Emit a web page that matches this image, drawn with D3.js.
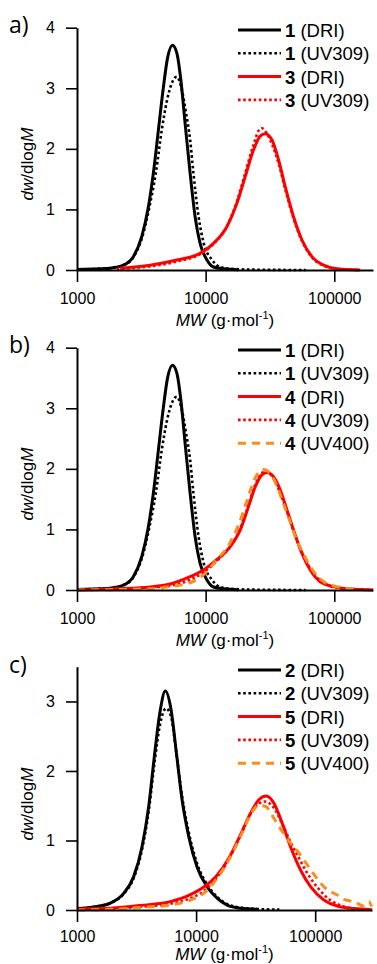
<!DOCTYPE html>
<html>
<head>
<meta charset="utf-8">
<script src="https://cdn.jsdelivr.net/npm/d3@7"></script>
<style>
  body { margin: 0; background: #fff; }
  svg text { font-family: Arial, 'Liberation Sans', Helvetica, sans-serif; }
</style>
</head>
<body>
<svg id="chart" width="377" height="964"></svg>
<script>
// ---- data: [MW (g/mol), dw/dlogM] ----
const s1Dri = [[1000, 0.01], [1500, 0.02], [1806, 0.03], [2292, 0.08], [2740, 0.22], [3186, 0.55], [3586, 1.04], [3923, 1.60], [4293, 2.31], [4697, 3.02], [5046, 3.49], [5522, 3.71], [5972, 3.58], [6415, 3.14], [6925, 2.42], [7574, 1.60], [8283, 0.88], [9057, 0.44], [10212, 0.17], [11508, 0.05], [13771, 0.02], [18000, 0.005]]
const s1Uv309 = [[1000, 0.01], [1500, 0.02], [1806, 0.03], [2292, 0.08], [2740, 0.21], [3223, 0.55], [3655, 1.04], [4098, 1.60], [4560, 2.31], [4985, 2.78], [5450, 3.08], [5972, 3.19], [6540, 2.97], [7045, 2.59], [7574, 2.15], [8034, 1.60], [8815, 0.88], [9667, 0.44], [11180, 0.17], [12920, 0.05], [15500, 0.02], [25000, 0.005], [60000, 0]]

const s3Dri = [[2163, 0.03], [3701, 0.08], [5972, 0.165], [9057, 0.275], [11508, 0.44], [14620, 0.715], [17490, 1.10], [20290, 1.54], [23550, 1.98], [26540, 2.21], [29040, 2.25], [32730, 2.15], [36880, 1.82], [41560, 1.375], [48230, 0.88], [56080, 0.495], [67000, 0.22], [82550, 0.08], [104900, 0.02], [159300, 0]]
const s3Uv309 = [[2035, 0.02], [3701, 0.06], [5972, 0.14], [9057, 0.26], [11508, 0.43], [14620, 0.72], [17490, 1.13], [20290, 1.60], [23550, 2.07], [26000, 2.31], [27350, 2.34], [30000, 2.25], [32730, 2.08], [36880, 1.76], [41560, 1.33], [48230, 0.85], [56080, 0.48], [67000, 0.21], [82550, 0.07], [104900, 0.02], [159300, 0]]

const s4Dri = [[1000, 0], [2035, 0.02], [3700, 0.05], [5297, 0.10], [7574, 0.22], [9617, 0.33], [12220, 0.50], [15530, 0.715], [18550, 0.99], [21520, 1.375], [24270, 1.70], [27350, 1.90], [29940, 1.94], [33720, 1.87], [38020, 1.65], [42870, 1.32], [48230, 0.99], [56080, 0.605], [65060, 0.33], [77800, 0.137], [98800, 0.055], [133400, 0.016], [200000, 0]]
const s4Uv309 = [[2000, 0.02], [3700, 0.04], [5297, 0.07], [7574, 0.17], [9617, 0.29], [12220, 0.48], [15530, 0.72], [18550, 1.01], [21520, 1.40], [24270, 1.74], [27350, 1.93], [29000, 1.96], [31640, 1.92], [35650, 1.74], [40200, 1.46], [45300, 1.15], [51000, 0.83], [59000, 0.52], [68700, 0.28], [85000, 0.10], [111000, 0.03], [160000, 0.01], [200000, 0.005]]
const s4Uv400 = [[1000, 0], [3700, 0.02], [5297, 0.055], [7574, 0.12], [9617, 0.25], [12220, 0.50], [15100, 0.74], [18000, 1.07], [20880, 1.46], [23550, 1.79], [25860, 1.94], [28180, 1.99], [31640, 1.93], [35650, 1.73], [40200, 1.43], [45300, 1.13], [51000, 0.825], [59000, 0.55], [68700, 0.31], [85000, 0.12], [111000, 0.045], [150000, 0.01]]

const s2Dri = [[1000, 0.02], [1473, 0.05], [1905, 0.10], [2466, 0.24], [2992, 0.48], [3515, 0.91], [4000, 1.49], [4463, 2.21], [4955, 2.83], [5520, 3.15], [6166, 2.88], [6834, 2.26], [7625, 1.585], [8670, 1.06], [10190, 0.62], [12360, 0.335], [15000, 0.17], [18220, 0.07], [23570, 0.025], [32560, 0.01]]
const s2Uv309 = [[1000, 0.02], [1473, 0.05], [1905, 0.10], [2466, 0.23], [2992, 0.46], [3515, 0.87], [4000, 1.42], [4463, 2.10], [4955, 2.65], [5600, 2.90], [6166, 2.78], [6834, 2.25], [7625, 1.64], [8670, 1.12], [10190, 0.67], [12360, 0.37], [15000, 0.19], [18220, 0.085], [23570, 0.035], [32560, 0.015], [50000, 0.005]]

const s5Dri = [[1000, 0.015], [1905, 0.025], [3630, 0.07], [6080, 0.12], [8950, 0.22], [11610, 0.33], [15000, 0.50], [18820, 0.745], [23570, 1.08], [28580, 1.39], [33630, 1.585], [38730, 1.64], [44960, 1.54], [52830, 1.25], [62080, 0.91], [75340, 0.575], [91440, 0.335], [118400, 0.144], [153200, 0.058], [211500, 0.02], [300000, 0.005]]
const s5Uv309 = [[1000, 0.01], [1905, 0.02], [3630, 0.05], [6080, 0.09], [8950, 0.17], [11590, 0.27], [15000, 0.47], [18820, 0.73], [23600, 1.07], [28640, 1.38], [33640, 1.53], [37600, 1.56], [44980, 1.47], [52820, 1.24], [62080, 0.98], [72950, 0.75], [85700, 0.53], [103800, 0.33], [134500, 0.14], [174200, 0.05], [240000, 0.01]]
const s5Uv400 = [[1000, 0], [1905, 0.01], [3630, 0.04], [6080, 0.07], [8950, 0.144], [11590, 0.24], [15000, 0.456], [18820, 0.72], [23600, 1.06], [28640, 1.37], [33640, 1.51], [38300, 1.49], [44980, 1.32], [52820, 1.13], [62080, 0.96], [72950, 0.82], [85700, 0.65], [100700, 0.48], [118300, 0.335], [143500, 0.24], [160000, 0.20], [174200, 0.154], [195000, 0.13], [211500, 0.10], [230000, 0.09], [248300, 0.06], [265000, 0.08], [282500, 0.12], [298000, 0.05]]

// axis ticks
const xMajorTicks = [1000, 10000, 100000]
const xMinorTicksAB = [2000, 3000, 4000, 5000, 6000, 7000, 8000, 9000, 20000, 30000, 40000, 50000, 60000, 70000, 80000, 90000, 200000]
const xMinorTicksC = xMinorTicksAB.concat([300000])
const yMajorTicksAB = [0, 1, 2, 3, 4]
const yMinorTicksAB = [0.5, 1.5, 2.5, 3.5]
const yMajorTicksC = [0, 1, 2, 3]
const yMinorTicksC = [0.5, 1.5, 2.5, 3.5]

const RED = '#ff0000'
const ORANGE = '#fb8c1e'

const styles = {
  dri: { width: 3, dash: null },
  uv309: { width: 2.6, dash: '2.6,2.6' },
  uv400: { width: 3, dash: '8,6' }
}

const panels = [
  {
    label: 'a)', top: 0, xMax: 200000, xRight: 373, yMax: 4, yTop: 27.7, tickY: 34, titleY: 56,
    xMinor: xMinorTicksAB, yMajor: yMajorTicksAB, yMinor: yMinorTicksAB,
    series: [
      { num: '1', det: 'DRI', data: s1Dri, color: '#000', style: 'dri' },
      { num: '1', det: 'UV309', data: s1Uv309, color: '#000', style: 'uv309' },
      { num: '3', det: 'DRI', data: s3Dri, color: RED, style: 'dri' },
      { num: '3', det: 'UV309', data: s3Uv309, color: RED, style: 'uv309' }
    ]
  },
  {
    label: 'b)', top: 320, xMax: 200000, xRight: 373, yMax: 4, yTop: 27.7, tickY: 34, titleY: 56,
    xMinor: xMinorTicksAB, yMajor: yMajorTicksAB, yMinor: yMinorTicksAB,
    series: [
      { num: '1', det: 'DRI', data: s1Dri, color: '#000', style: 'dri' },
      { num: '1', det: 'UV309', data: s1Uv309, color: '#000', style: 'uv309' },
      { num: '4', det: 'DRI', data: s4Dri, color: RED, style: 'dri' },
      { num: '4', det: 'UV309', data: s4Uv309, color: RED, style: 'uv309' },
      { num: '4', det: 'UV400', data: s4Uv400, color: ORANGE, style: 'uv400' }
    ]
  },
  {
    label: 'c)', top: 640, xMax: 300000, xRight: 372, yMax: 3.5, yTop: 26.7, tickY: 32, titleY: 50,
    xMinor: xMinorTicksC, yMajor: yMajorTicksC, yMinor: yMinorTicksC,
    series: [
      { num: '2', det: 'DRI', data: s2Dri, color: '#000', style: 'dri' },
      { num: '2', det: 'UV309', data: s2Uv309, color: '#000', style: 'uv309' },
      { num: '5', det: 'DRI', data: s5Dri, color: RED, style: 'dri' },
      { num: '5', det: 'UV309', data: s5Uv309, color: RED, style: 'uv309' },
      { num: '5', det: 'UV400', data: s5Uv400, color: ORANGE, style: 'uv400' }
    ]
  }
]

const svg = d3.select('#chart')
const left = 77

const drawPanel = (p) => {
  const g = svg.append('g')
  const bottom = p.top + 270
  const x = d3.scaleLog().domain([1000, p.xMax]).range([left, p.xRight])
  const y = d3.scaleLinear().domain([0, p.yMax]).range([bottom, p.top + p.yTop])

  // curves
  const line = d3.line()
    .x(d => x(d[0]))
    .y(d => y(d[1]))
    .curve(d3.curveMonotoneX)

  p.series.forEach(s => {
    const st = styles[s.style]
    g.append('path')
      .datum(s.data)
      .attr('d', line)
      .attr('fill', 'none')
      .attr('stroke', s.color)
      .attr('stroke-width', st.width)
      .attr('stroke-dasharray', st.dash)
  })

  // x axis
  const xAxis = g.append('g').attr('transform', `translate(0,${bottom})`)
  xAxis.call(d3.axisBottom(x).tickValues(p.xMinor).tickSize(7).tickSizeOuter(0).tickFormat(''))
  xAxis.call(d3.axisBottom(x).tickValues(xMajorTicks).tickSize(12).tickSizeOuter(0).tickFormat(d3.format('d')))
  xAxis.selectAll('text').attr('dy', null).attr('y', p.tickY).style('font-size', '16px').attr('fill', '#000')

  // y axis
  const yAxis = g.append('g').attr('transform', `translate(${left},0)`)
  yAxis.call(d3.axisLeft(y).tickValues(p.yMinor).tickSize(7).tickSizeOuter(0).tickFormat(''))
  yAxis.call(d3.axisLeft(y).tickValues(p.yMajor).tickSize(11).tickSizeOuter(0).tickFormat(d3.format('d')))
  yAxis.selectAll('text').attr('x', -22).style('font-size', '16px').attr('fill', '#000')

  g.selectAll('.domain').attr('stroke', '#000').attr('stroke-width', 2)
  g.selectAll('.tick line').attr('stroke', '#000').attr('stroke-width', 1.6)

  // axis titles
  const xt = g.append('text')
    .attr('x', (left + p.xRight) / 2)
    .attr('y', bottom + p.titleY)
    .attr('text-anchor', 'middle')
    .style('font-size', '17px')
  xt.append('tspan').style('font-style', 'italic').text('MW')
  xt.append('tspan').text(' (g·mol')
  xt.append('tspan').attr('dy', -7).style('font-size', '11px').text('-1')
  xt.append('tspan').attr('dy', 7).text(')')

  const yt = g.append('text')
    .attr('transform', `translate(33,${bottom - 106}) rotate(-90)`)
    .attr('text-anchor', 'middle')
    .style('font-size', '17px')
  yt.append('tspan').style('font-style', 'italic').text('dw')
  yt.append('tspan').text('/dlog')
  yt.append('tspan').style('font-style', 'italic').text('M')

  // panel letter
  g.append('text')
    .attr('x', 9)
    .attr('y', p.top + 33)
    .style('font-family', "'Open Sans', sans-serif")
    .style('font-size', '23px')
    .text(p.label)

  // legend
  const legend = g.append('g')
  p.series.forEach((s, i) => {
    const st = styles[s.style]
    const ry = p.top + 30 + i * 23.3
    legend.append('line')
      .attr('x1', 238).attr('x2', 281)
      .attr('y1', ry).attr('y2', ry)
      .attr('stroke', s.color)
      .attr('stroke-width', st.width)
      .attr('stroke-dasharray', st.dash)
    const t = legend.append('text')
      .attr('x', 285)
      .attr('y', ry + 7)
      .style('font-size', '18.5px')
    t.append('tspan').style('font-weight', 'bold').text(s.num)
    t.append('tspan').text(` (${s.det})`)
  })
}

panels.forEach(drawPanel)
</script>
</body>
</html>
